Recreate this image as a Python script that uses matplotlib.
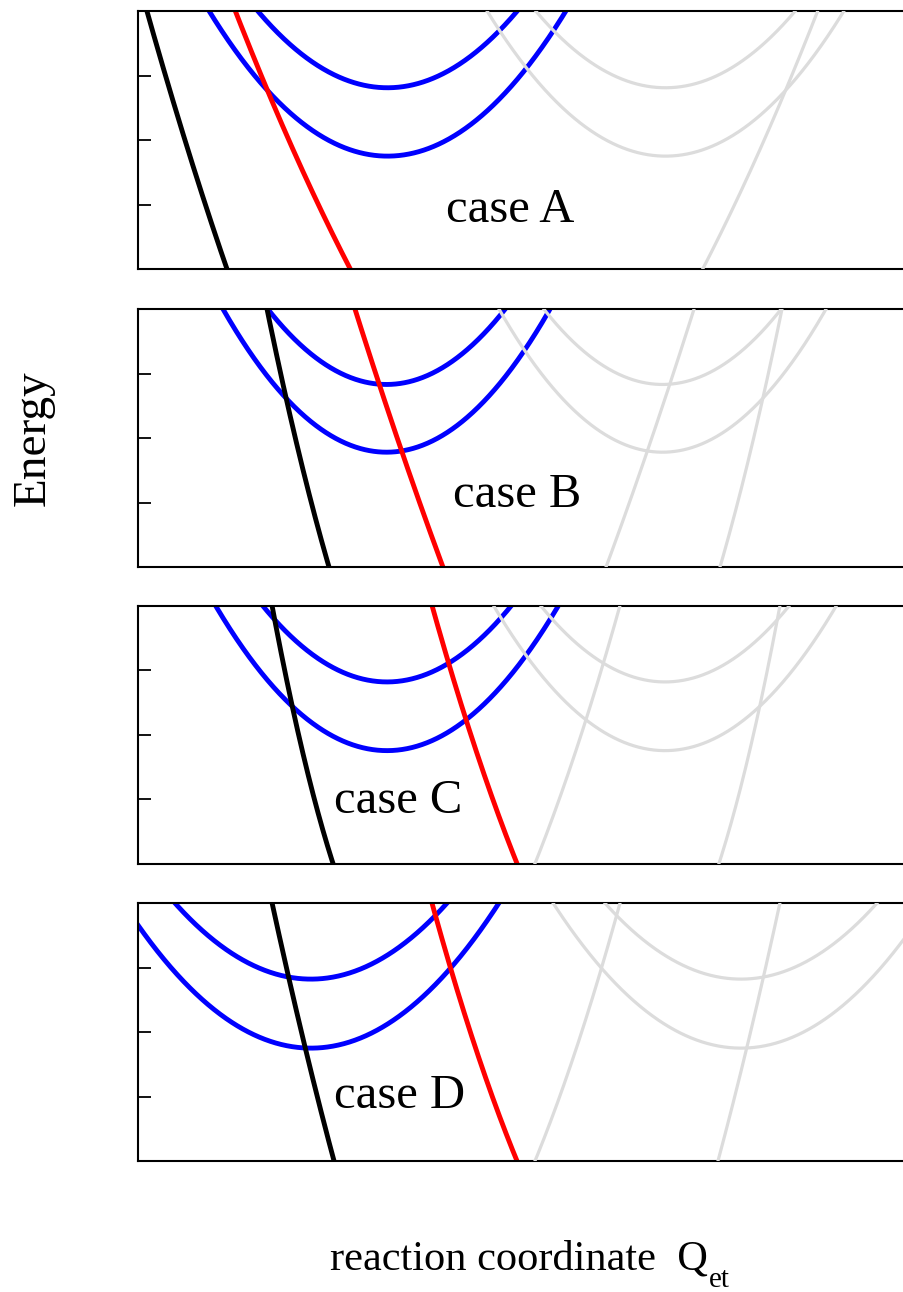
import numpy as np
import matplotlib
matplotlib.use("Agg")
import matplotlib.pyplot as plt

plt.rcParams['font.family'] = ['Liberation Serif', 'DejaVu Serif']

# ---------------- data ----------------
cases = ["case A", "case B", "case C", "case D"]

# blue (reactant) parabolas: centre, curvature, minima of the two states
blue_x0 = [2.495, 2.485, 2.49, 1.73]
blue_k = [0.707, 0.83, 0.765, 0.637]
blue_E_upper = [2.81, 2.83, 2.815, 2.82]
blue_E_lower = [1.75, 1.78, 1.75, 1.75]

# red parabolas (left branch): centre, minimum, curvature
red_x0 = [5.67, 8.18, 5.776, 5.52]
red_E0 = [-5.31, -10.74, -3.85, -3.265]
red_k = [0.422, 0.408, 0.976, 1.091]

# black parabolas (left branch)
black_x0 = [4.48, 3.386, 2.798, 4.62]
black_E0 = [-8.07, -3.935, -2.045, -7.69]
black_k = [0.626, 1.806, 2.844, 1.087]

# mirror axis of the grey (product) copies, and whether black has a copy
mirror_x = [3.885, 3.865, 3.88, 3.88]
black_mirrored = [False, True, True, True]

energy_ticks = [0, 1, 2, 3, 4]

# ---------------- figure ----------------
W, H = 904, 1292
fig = plt.figure(figsize=(W / 100, H / 100), dpi=100)

panel_px = [(11, 269), (309, 567), (605.5, 863.5), (903, 1161)]
left_px = 138
label_pos = [(3.72, 0.729), (3.795, 0.93), (2.605, 0.778), (2.62, 0.814)]

xlim = (0, (W - left_px) / 100)
BLUE, RED, BLACK, GREY = '#0000ff', '#ff0000', '#000000', '#dcdcdc'
LW, GLW = 3.5, 2.3

for i in range(4):
    top, bot = panel_px[i]
    ax = fig.add_axes([left_px / W, 1 - bot / H, (W - left_px) / W, (bot - top) / H])
    ax.set_xlim(*xlim)
    ax.set_ylim(0, 4)

    m = mirror_x[i]
    xs = np.linspace(-1, 10, 2000)

    # blue parabolas and grey mirror copies
    for E0 in (blue_E_upper[i], blue_E_lower[i]):
        x0 = blue_x0[i]
        ax.plot(xs, E0 + blue_k[i] * (xs - x0) ** 2, color=BLUE, lw=LW, zorder=2)
        xm = 2 * m - x0
        ax.plot(xs, E0 + blue_k[i] * (xs - xm) ** 2, color=GREY, lw=GLW, zorder=3)

    # red
    xr = np.linspace(-1, red_x0[i], 1500)
    ax.plot(xr, red_E0[i] + red_k[i] * (xr - red_x0[i]) ** 2, color=RED, lw=LW, zorder=2.5)
    xrm = 2 * m - red_x0[i]
    xg = np.linspace(xrm, 12, 1500)
    ax.plot(xg, red_E0[i] + red_k[i] * (xg - xrm) ** 2, color=GREY, lw=GLW, zorder=3)

    # black
    xb = np.linspace(-1, black_x0[i], 1500)
    ax.plot(xb, black_E0[i] + black_k[i] * (xb - black_x0[i]) ** 2, color=BLACK, lw=LW, zorder=2.5)
    if black_mirrored[i]:
        xbm = 2 * m - black_x0[i]
        xg = np.linspace(xbm, 12, 1500)
        ax.plot(xg, black_E0[i] + black_k[i] * (xg - xbm) ** 2, color=GREY, lw=GLW, zorder=3)

    ax.text(label_pos[i][0], label_pos[i][1], cases[i], ha='center', va='baseline',
            fontsize=35, zorder=5)

    ax.set_yticks(energy_ticks)
    ax.set_yticklabels([])
    ax.set_xticks([])
    ax.tick_params(axis='y', direction='in', length=9, width=1.3, left=True, right=False)
    for s in ('left', 'top', 'bottom'):
        ax.spines[s].set_linewidth(1.5)
    ax.spines['right'].set_visible(False)

fig.text(33 / W, 1 - 438 / H, "Energy", rotation=90, ha='center', va='center', fontsize=34)
xl = fig.text(330 / W, 1 - 1270 / H, "reaction coordinate  Q", ha='left', va='baseline',
              fontsize=30.5)
fig.canvas.draw()
bb = xl.get_window_extent()
fig.text((bb.x1 + 1) / W, 1 - 1287 / H, "et", ha='left', va='baseline', fontsize=21)

fig.savefig("out.png", dpi=100)
